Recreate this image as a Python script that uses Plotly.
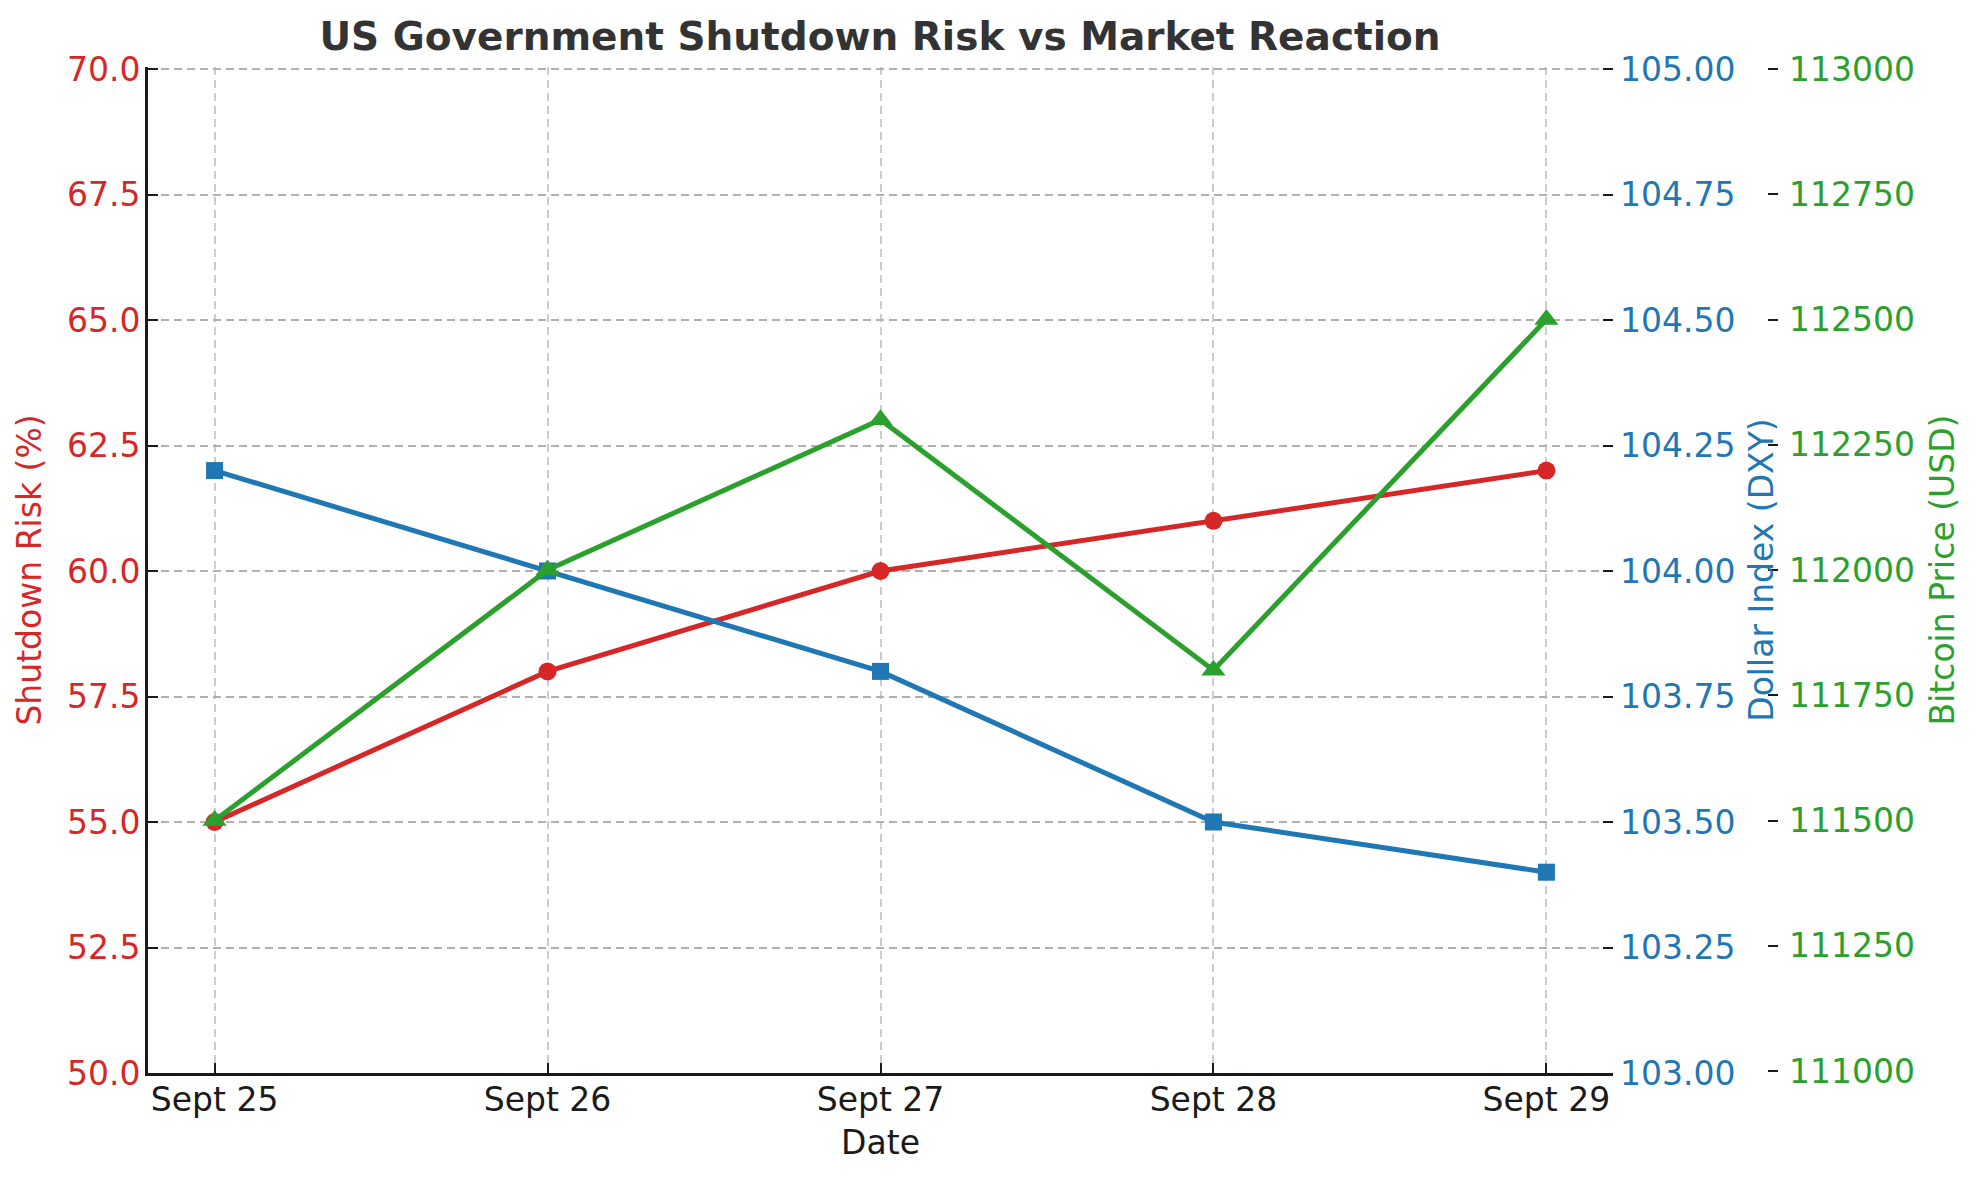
import plotly.graph_objects as go

# ---- data ----
dates = ["Sept 25", "Sept 26", "Sept 27", "Sept 28", "Sept 29"]
shutdown_risk = [55, 58, 60, 61, 62]
dollar_index = [104.2, 104.0, 103.8, 103.5, 103.4]
bitcoin_price = [111500, 112000, 112300, 111800, 112500]

risk_ticks = [50, 52.5, 55, 57.5, 60, 62.5, 65, 67.5, 70]
dxy_ticks = [103.0, 103.25, 103.5, 103.75, 104.0, 104.25, 104.5, 104.75, 105.0]
btc_ticks = [111000, 111250, 111500, 111750, 112000, 112250, 112500, 112750, 113000]

RED = "#d62728"
BLUE = "#1f77b4"
GREEN = "#2ca02c"
FONT = "DejaVu Sans"
FS = 33

# page body has an 8px margin; work in figure coordinates = screen - 8
OFF = 8
W, H = 1979 - OFF, 1180 - OFF
L, T = 148 - OFF, 67 - OFF
B = H - (1073 - OFF)
R = 20
paper_w = W - L - R
plot_h = H - T - B
plot_right = 1613 - OFF
green_axis_x = 1778 - OFF
x_dom_end = (plot_right - L) / paper_w
green_pos = (green_axis_x - L) / paper_w


def padded(lo, hi, px_lo=0, px_hi=2):
    # extend by a couple of pixels so the end ticks are not clipped
    span = hi - lo
    return [lo - span * px_lo / plot_h, hi + span * px_hi / plot_h]


fig = go.Figure()
fig.add_trace(go.Scatter(
    x=dates, y=shutdown_risk, mode="lines+markers", name="Shutdown Risk (%)",
    line=dict(color=RED, width=5), marker=dict(symbol="circle", size=18, color=RED),
    yaxis="y", showlegend=False))
fig.add_trace(go.Scatter(
    x=dates, y=dollar_index, mode="lines+markers", name="Dollar Index (DXY)",
    line=dict(color=BLUE, width=5), marker=dict(symbol="square", size=17, color=BLUE),
    yaxis="y2", showlegend=False))
fig.add_trace(go.Scatter(
    x=dates, y=bitcoin_price, mode="lines+markers", name="Bitcoin Price (USD)",
    line=dict(color=GREEN, width=5), marker=dict(symbol="triangle-up", size=21, color=GREEN),
    yaxis="y3", showlegend=False))

fig.update_layout(
    width=W, height=H,
    margin=dict(l=L, r=R, t=T, b=B),
    paper_bgcolor="white", plot_bgcolor="white",
    font=dict(family=FONT, size=FS, color="#1a1a1a"),
    title=dict(text="<b>US Government Shutdown Risk vs Market Reaction</b>",
               font=dict(family=FONT, size=39, color="#333333"),
               x=(880 - OFF) / W, xref="container", xanchor="center",
               y=1 - (36 - OFF) / H, yref="container", yanchor="middle"),
    xaxis=dict(
        domain=[0, x_dom_end], type="category", range=[-0.2, 4.2],
        title=dict(text="Date", font=dict(size=FS, color="#1a1a1a"), standoff=14),
        showline=True, linecolor="#1a1a1a", linewidth=2.8, mirror=False,
        ticks="inside", ticklen=10, tickwidth=2, tickcolor="#1a1a1a",
        tickfont=dict(size=FS, color="#1a1a1a"),
        ticklabelstandoff=-5,
        showgrid=True, gridcolor="#cccccc", gridwidth=2, griddash="8px,5px",
        zeroline=False,
    ),
    yaxis=dict(
        range=padded(50, 70, 0, 2), tickvals=risk_ticks, tickformat=".1f",
        title=dict(text="Shutdown Risk (%)", font=dict(size=FS, color=RED), standoff=16),
        tickfont=dict(size=FS, color=RED),
        showline=True, linecolor="#1a1a1a", linewidth=2.8,
        ticks="inside", ticklen=10, tickwidth=2, tickcolor="#1a1a1a",
        ticklabelstandoff=-2,
        showgrid=True, gridcolor="#b0b0b0", gridwidth=2, griddash="8px,5px",
        zeroline=False,
    ),
    yaxis2=dict(
        range=padded(103, 105, 0, 2), tickvals=dxy_ticks, tickformat=".2f",
        overlaying="y", side="right", anchor="x",
        title=dict(text="Dollar Index (DXY)", font=dict(size=FS, color=BLUE), standoff=15),
        tickfont=dict(size=FS, color=BLUE),
        showline=False, ticks="inside", ticklen=10, tickwidth=2, tickcolor="#1a1a1a",
        ticklabelstandoff=6,
        showgrid=False, zeroline=False,
    ),
    yaxis3=dict(
        range=padded(111000, 113000, 2, 2), tickvals=btc_ticks, tickformat="d",
        overlaying="y", side="right", anchor="free", position=green_pos,
        title=dict(text="Bitcoin Price (USD)", font=dict(size=FS, color=GREEN), standoff=16),
        tickfont=dict(size=FS, color=GREEN),
        showline=False, ticks="inside", ticklen=10, tickwidth=2, tickcolor="#1a1a1a",
        ticklabelstandoff=10,
        showgrid=False, zeroline=False,
    ),
)

fig.write_html("out.html")
